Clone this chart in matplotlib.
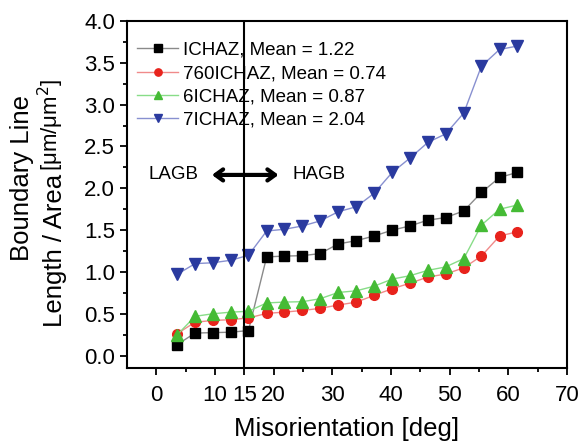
import numpy as np
import matplotlib.pyplot as plt

plt.rcParams['font.family'] = ['Liberation Sans', 'DejaVu Sans']

# Misorientation bin centres (deg)
angle = [3.5, 6.6, 9.6, 12.7, 15.7, 18.8, 21.8, 24.9, 27.9, 31.0,
         34.1, 37.1, 40.2, 43.2, 46.3, 49.3, 52.4, 55.4, 58.5, 61.5]

ichaz = [0.13, 0.27, 0.275, 0.28, 0.30, 1.18, 1.19, 1.195, 1.22, 1.335,
         1.375, 1.43, 1.50, 1.55, 1.62, 1.65, 1.73, 1.95, 2.13, 2.19]
ichaz760 = [0.26, 0.40, 0.42, 0.43, 0.45, 0.505, 0.52, 0.54, 0.565, 0.605,
            0.64, 0.72, 0.80, 0.865, 0.94, 0.975, 1.05, 1.19, 1.43, 1.48]
ichaz6 = [0.245, 0.47, 0.50, 0.52, 0.53, 0.63, 0.64, 0.645, 0.68, 0.755,
          0.775, 0.83, 0.915, 0.955, 1.02, 1.06, 1.16, 1.56, 1.75, 1.80]
ichaz7 = [0.97, 1.10, 1.11, 1.14, 1.20, 1.49, 1.51, 1.55, 1.61, 1.72,
          1.78, 1.94, 2.19, 2.36, 2.55, 2.65, 2.90, 3.46, 3.66, 3.70]

labels = ['ICHAZ, Mean = 1.22', '760ICHAZ, Mean = 0.74',
          '6ICHAZ, Mean = 0.87', '7ICHAZ, Mean = 2.04']

fig = plt.figure(figsize=(5.84, 4.42), dpi=100)
ax = fig.add_axes([0.2175, 0.167, 0.7535, 0.7855])

ax.plot(angle, ichaz, '-', color='#8a8a8a', lw=1, marker='s', ms=7,
        mfc='black', mec='black', label=labels[0])
ax.plot(angle, ichaz760, '-', color='#f08a8a', lw=1, marker='o', ms=7,
        mfc='#e8231c', mec='#e8231c', label=labels[1])
ax.plot(angle, ichaz6, '-', color='#88dd88', lw=1, marker='^', ms=8,
        mfc='#45bb35', mec='#45bb35', label=labels[2])
ax.plot(angle, ichaz7, '-', color='#8890d0', lw=1, marker='v', ms=8,
        mfc='#2a3a9f', mec='#2a3a9f', label=labels[3])

# LAGB / HAGB divider
ax.axvline(15, color='black', lw=1.5)
ax.annotate('', xy=(9.0, 2.16), xytext=(21.3, 2.16),
            arrowprops=dict(arrowstyle='<->,head_length=0.55,head_width=0.4',
                            lw=3, color='black'))
ax.text(3.0, 2.16, 'LAGB', fontsize=13.5, ha='center', va='center')
ax.text(27.8, 2.16, 'HAGB', fontsize=13.5, ha='center', va='center')

ax.set_xlim(-5, 70)
ax.set_ylim(-0.15, 4.0)
ax.set_xticks([0, 10, 15, 20, 30, 40, 50, 60, 70])
ax.set_xticks([5, 25, 35, 45, 55, 65], minor=True)
ax.set_yticks(np.arange(0, 4.01, 0.5))
ax.set_yticks(np.arange(0.25, 4.0, 0.5), minor=True)
ax.set_yticklabels(['%.1f' % v for v in np.arange(0, 4.01, 0.5)])
ax.tick_params(which='both', direction='out', width=1.3, labelsize=16,
               top=False, right=False)
ax.tick_params(which='major', length=5)
ax.tick_params(which='minor', length=3)
ax.tick_params(axis='x', which='major', pad=7)
for s in ax.spines.values():
    s.set_linewidth(1.5)

ax.set_xlabel('Misorientation [deg]', fontsize=18.5, labelpad=8)

fig.text(0.038, 0.598, 'Boundary Line', rotation=90, fontsize=18.5,
         ha='center', va='center')
fig.text(0.115, 0.26, 'Length / Area', rotation=90, fontsize=18.5,
         ha='right', va='bottom')
fig.text(0.113, 0.614, r'[$\mathregular{\mu}$m/$\mathregular{\mu}$m$^2$]',
         rotation=90, fontsize=16, ha='right', va='bottom')

ax.legend(loc='upper left', bbox_to_anchor=(0.006, 0.962), borderaxespad=0,
          frameon=False, fontsize=13.5, handlelength=2.2,
          handletextpad=0.27, labelspacing=0.33, markerscale=0.75)

fig.savefig('out.png', dpi=100)
